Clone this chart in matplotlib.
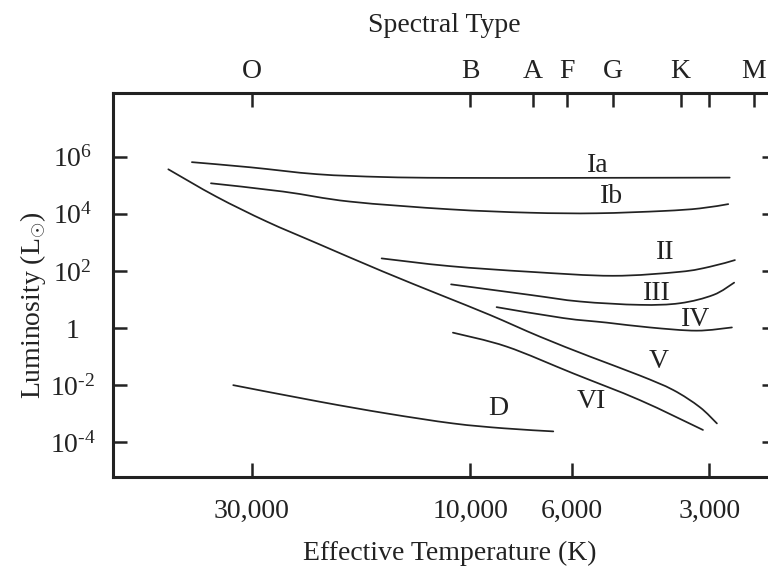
import numpy as np
import matplotlib
matplotlib.use("Agg")
import matplotlib.pyplot as plt
from matplotlib.ticker import NullLocator
from matplotlib.path import Path
from matplotlib.patches import PathPatch

plt.rcParams["font.family"] = ["Liberation Serif", "DejaVu Serif"]
plt.rcParams["mathtext.fontset"] = "custom"
plt.rcParams["mathtext.rm"] = "Liberation Serif"
plt.rcParams["mathtext.it"] = "Liberation Serif:italic"
plt.rcParams["mathtext.bf"] = "Liberation Serif:bold"

# Luminosity classes: effective temperature (K) and luminosity (L_sun)
temp_Ia = [40500, 30200, 21600, 15500, 11100, 5750, 2710]
lum_Ia = [6.46e5, 4.27e5, 2.45e5, 1.95e5, 1.82e5, 1.82e5, 1.86e5]

temp_Ib = [36800, 25600, 18300, 11100, 7400, 5290, 3790, 3150, 2730]
lum_Ib = [1.175e5, 6.03e4, 2.69e4, 1.445e4, 1.096e4, 1.047e4, 1.259e4, 1.549e4, 2.19e4]

temp_II = [15600, 11100, 7400, 4880, 3480, 2990, 2640]
lum_II = [275, 148, 93.3, 67.6, 93.3, 141, 240]

temp_III = [11000, 7400, 5750, 4260, 3480, 2940, 2650]
lum_III = [33.9, 14.5, 8.5, 6.5, 7.4, 14.5, 38.9]

temp_IV = [8750, 6260, 5030, 4050, 3200, 2680]
lum_IV = [5.4, 2.24, 1.55, 1.05, 0.81, 1.05]

temp_V = [45600, 35800, 27800, 21600, 15500, 11600, 9050, 7040, 5470, 4260, 3600, 3150, 2890]
lum_V = [3.63e5, 3.98e4, 5.37e3, 933, 95.5, 14.4, 2.88, 0.50, 0.10, 0.0218, 6.76e-3, 1.70e-3, 4.57e-4]

temp_VI = [10900, 8320, 5950, 4260, 3100]
lum_VI = [0.69, 0.224, 0.0257, 3.0e-3, 2.7e-4]

temp_D = [32900, 21300, 15200, 10900, 8460, 6580]
lum_D = [1.0e-2, 2.63e-3, 1.02e-3, 4.57e-4, 3.09e-4, 2.40e-4]

# Class name labels (temperature, luminosity)
class_names = ["Ia", "Ib", "II", "III", "IV", "V", "VI", "D"]
class_label_temp = [5260, 4910, 3740, 3910, 3210, 3870, 5430, 8680]
class_label_lum = [5.1e5, 4.0e4, 436, 15.6, 2.07, 0.066, 2.6e-3, 1.55e-3]

# Axis ticks
temp_ticks = [30000, 10000, 6000, 3000]
temp_tick_labels = ["30,000", "10,000", "6,000", "3,000"]
lum_ticks = [1e6, 1e4, 1e2, 1, 1e-2, 1e-4]
lum_tick_labels = [r"$\mathregular{10^{6}}$", r"$\mathregular{10^{4}}$",
                   r"$\mathregular{10^{2}}$", "1",
                   r"$\mathregular{10^{\text{-}2}}$", r"$\mathregular{10^{\text{-}4}}$"]
spectral_temps = [30000, 10000, 7300, 6150, 4880, 3470, 3000, 2400]
spectral_labels = ["O", "B", "A", "F", "G", "K", "", "M"]

INK = "#222222"
FS = 20


def smooth_path(temps, lums):
    """Cubic Bezier path through the points, built in log-log space."""
    pts = np.column_stack([np.log10(temps), np.log10(lums)])
    n = len(pts)
    verts = [pts[0]]
    codes = [Path.MOVETO]
    for i in range(n - 1):
        p0 = pts[i - 1] if i > 0 else pts[i]
        p1 = pts[i]
        p2 = pts[i + 1]
        p3 = pts[i + 2] if i + 2 < n else pts[i + 1]
        verts += [p1 + (p2 - p0) / 6.0, p2 - (p3 - p1) / 6.0, p2]
        codes += [Path.CURVE4] * 3
    return Path(10.0 ** np.array(verts), codes)


fig = plt.figure(figsize=(7.68, 5.68), dpi=100)
W, H = 768.0, 568.0
ax = fig.add_axes([113 / W, 1 - 477 / H, (776 - 113) / W, (477 - 92.5) / H])

ax.set_xscale("log")
ax.set_yscale("log")
ax.set_xlim(60230, 2147)
ax.set_ylim(10 ** -5.217, 10 ** 8.25)

series = [(temp_Ia, lum_Ia), (temp_Ib, lum_Ib), (temp_II, lum_II),
          (temp_III, lum_III), (temp_IV, lum_IV), (temp_V, lum_V),
          (temp_VI, lum_VI), (temp_D, lum_D)]
for t, l in series:
    ax.add_patch(PathPatch(smooth_path(t, l), facecolor="none", edgecolor=INK,
                           lw=1.25, capstyle="round", joinstyle="round"))

for name, t, l in zip(class_names, class_label_temp, class_label_lum):
    ax.text(t, l, name, ha="center", va="center", fontsize=FS, color=INK)

ax.set_xticks(temp_ticks)
ax.set_xticklabels(temp_tick_labels)
ax.xaxis.set_minor_locator(NullLocator())
ax.set_yticks(lum_ticks)
ax.set_yticklabels(lum_tick_labels)
ax.yaxis.set_minor_locator(NullLocator())

ax.tick_params(axis="x", which="major", direction="in", length=10, width=1.8,
               top=False, bottom=True, labelsize=FS, pad=15.5, colors=INK)
ax.tick_params(axis="y", which="major", direction="in", length=10, width=1.8,
               left=True, right=True, labelleft=True, labelright=False,
               labelsize=FS, pad=29, colors=INK)
for lab in ax.get_yticklabels():
    lab.set_horizontalalignment("center")

for s in ax.spines.values():
    s.set_linewidth(2.2)
    s.set_color(INK)

# Spectral type scale along the top
ax2 = ax.twiny()
ax2.set_xscale("log")
ax2.set_xlim(ax.get_xlim())
ax2.set_xticks(spectral_temps)
ax2.set_xticklabels(spectral_labels)
ax2.xaxis.set_minor_locator(NullLocator())
ax2.tick_params(axis="x", which="major", direction="in", length=10, width=1.8,
                top=True, bottom=False, labelsize=FS, pad=6, colors=INK)
for s in ax2.spines.values():
    s.set_visible(False)

fig.text(444 / W, 1 - 31.5 / H, "Spectral Type", ha="center", va="baseline",
         fontsize=FS, color=INK)
fig.text(450 / W, 1 - 560.5 / H, "Effective Temperature (K)", ha="center",
         va="baseline", fontsize=FS, color=INK)
fig.text(33 / W, 1 - 305 / H, r"Luminosity (L$_{\odot}$)", rotation=90,
         ha="center", va="center", fontsize=FS, color=INK)

fig.savefig("out.png", dpi=100)
